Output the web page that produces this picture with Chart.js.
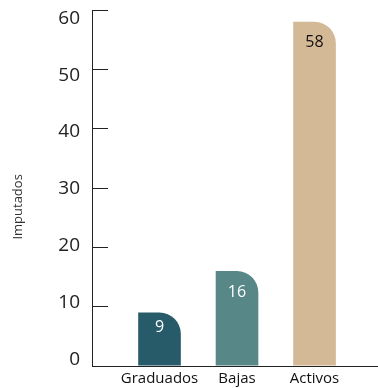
<!DOCTYPE html>
<html>
<head>
<meta charset="utf-8">
<script src="https://cdn.jsdelivr.net/npm/chart.js@4/dist/chart.umd.min.js"></script>
<style>
html,body{margin:0;padding:0;background:#fff;}
#wrap{width:378px;height:388px;position:relative;}
</style>
</head>
<body>
<div id="wrap"><canvas id="c"></canvas></div>
<script>
const categories = ['Graduados', 'Bajas', 'Activos'];
const values = [9, 16, 58];
const barColors = ['#275B6A', '#578786', '#D4B996'];
const valueLabelColors = ['#ffffff', '#ffffff', '#111111'];
const yTickStep = 10;
const yMin = 0;
const yMax = 60;
const yTitle = 'Imputados';

const FONT = '"Open Sans", "Noto Sans", sans-serif';
Chart.defaults.font.family = FONT;

const barLabelPlugin = {
  id: 'barLabels',
  afterDatasetsDraw(chart) {
    const meta = chart.getDatasetMeta(0);
    const ctx = chart.ctx;
    ctx.save();
    ctx.font = '16px ' + FONT;
    ctx.textAlign = 'center';
    ctx.textBaseline = 'middle';
    meta.data.forEach((el, i) => {
      const h = el.base - el.y;
      const off = Math.min(21, h * 0.28);
      ctx.fillStyle = valueLabelColors[i];
      ctx.fillText(String(values[i]), el.x, el.y + off);
    });
    ctx.restore();
  }
};

const yTitlePlugin = {
  id: 'yTitle',
  afterDraw(chart) {
    const a = chart.chartArea;
    const ctx = chart.ctx;
    ctx.save();
    ctx.translate(18, a.top + (a.bottom - a.top) * 0.553);
    ctx.rotate(-Math.PI / 2);
    ctx.font = '13px ' + FONT;
    ctx.fillStyle = '#333333';
    ctx.textAlign = 'center';
    ctx.textBaseline = 'middle';
    ctx.fillText(yTitle, 0, 0);
    ctx.restore();
  }
};

new Chart(document.getElementById('c'), {
  type: 'bar',
  data: {
    datasets: [{
      data: values.map((v, i) => ({ x: i, y: v })),
      backgroundColor: barColors,
      borderWidth: 0,
      borderRadius: { topLeft: 0, topRight: 22, bottomLeft: 0, bottomRight: 0 },
      borderSkipped: false,
      categoryPercentage: 1,
      barPercentage: 0.55
    }]
  },
  plugins: [barLabelPlugin, yTitlePlugin],
  options: {
    responsive: true,
    maintainAspectRatio: false,
    animation: false,
    layout: { padding: { top: 10, right: 0, bottom: 0, left: 0 } },
    plugins: { legend: { display: false }, tooltip: { enabled: false } },
    scales: {
      x: {
        type: 'linear',
        min: -0.871,
        max: 2.819,
        offset: false,
        grid: { display: false, drawTicks: false },
        border: { display: true, color: '#222222', width: 1 },
        ticks: {
          stepSize: 1,
          includeBounds: false,
          autoSkip: false,
          maxRotation: 0,
          padding: 4,
          color: '#111111',
          font: { size: 15 },
          callback: (v) => (categories[v] !== undefined ? categories[v] : null)
        },
        afterFit: (s) => { s.height = 22; s.paddingLeft = 0; s.paddingRight = 0; }
      },
      y: {
        type: 'linear',
        position: 'left',
        weight: 0,
        min: yMin,
        max: yMax,
        ticks: { display: false, stepSize: yTickStep },
        grid: { display: true, drawOnChartArea: false, drawTicks: true, tickLength: -16, color: '#222222', lineWidth: 1 },
        border: { display: true, color: '#222222', width: 1 },
        afterFit: (s) => { s.width = 0; s.paddingTop = 0; s.paddingBottom = 0; }
      },
      yl: {
        type: 'linear',
        position: 'left',
        weight: 1,
        min: -1.14,
        max: 61.46,
        grid: { display: false, drawTicks: false },
        border: { display: false },
        ticks: {
          stepSize: yTickStep,
          includeBounds: false,
          padding: 12,
          color: '#222222',
          font: { size: 19 }
        },
        afterFit: (s) => { s.width = 92; s.paddingTop = 0; s.paddingBottom = 0; }
      }
    }
  }
});
</script>
</body>
</html>
